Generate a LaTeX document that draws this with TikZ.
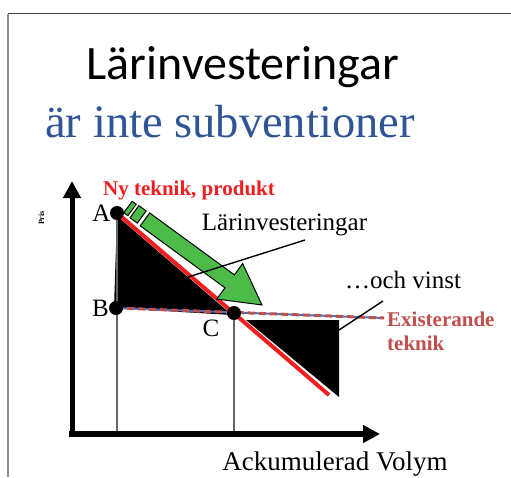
\documentclass[tikz,border=0pt]{standalone}
\usepackage{fontspec}
\setmainfont{Liberation Serif}
\newfontfamily\titlefont{Carlito}
\usetikzlibrary{arrows.meta}
\definecolor{ttblue}{RGB}{47,85,151}
\definecolor{nyred}{RGB}{240,30,30}
\definecolor{exred}{RGB}{192,80,77}
\definecolor{exblue}{RGB}{68,114,196}
\definecolor{argreen}{RGB}{77,187,72}
\tikzset{
  lbl/.style={inner sep=0pt, anchor=base},
  pt/.style={circle, fill=black, minimum size=14pt, inner sep=0pt},
  axis/.style={line width=5pt, -{Triangle[length=17pt,width=17pt]}},
  guide/.style={draw=black!60, line width=1.2pt},
  leader/.style={draw=black, line width=1.4pt},
  grn/.style={fill=argreen, draw=black, line width=1pt, line join=miter},
}
\begin{document}
\begin{tikzpicture}[x=1pt,y=-1pt]
\useasboundingbox (0,0) rectangle (511,477);
% frame
\draw[draw=black!75, line width=1.5pt] (8,13.5) -- (511,13.5);
\draw[draw=black!45, line width=1.5pt] (8,13.5) -- (8,477);
% titles
\node[lbl] (title) at (243,79) {\titlefont\fontsize{48}{50}\selectfont Lärinvesteringar};
\node[lbl, text=ttblue] (subtitle) at (230,137) {\fontsize{46.5}{50}\selectfont är inte subventioner};
% coordinates
\coordinate (Ac) at (117,213);
\coordinate (Bc) at (116,308);
\coordinate (Cc) at (234,313);
\coordinate (Rend) at (329,395);
\coordinate (Dend) at (384,318);
\coordinate (A0) at (117,434);
\coordinate (C0) at (234,434);
% black triangles
\fill[black] (117,216) -- (114,308) -- (232,315) -- cycle;
\fill[black] (246,320) -- (339,320) -- (339,397) -- cycle;
% guides
\draw[guide] (Ac) -- (A0);
\draw[guide] (Cc) -- (C0);
% existing technology line
\draw[exblue, line width=2pt] (Bc) -- (Dend);
\draw[exred, line width=3pt, dash pattern=on 7pt off 4pt] (Bc) -- (Dend);
% new technology line
\draw[nyred, line width=4pt] (Ac) -- (Rend);
% points
\node[pt] (A) at (Ac) {};
\node[pt] (B) at (Bc) {};
\node[pt] (C) at (Cc) {};
% green striped arrow
\coordinate (S) at (128,207);
\begin{scope}[shift={(S)}, x={(0.807pt,-0.590pt)}, y={(0.590pt,0.807pt)}]
  \filldraw[grn] (0,-7) -- (5,-7) -- (5,7) -- (0,7) -- cycle;
  \filldraw[grn] (8,-7.5) -- (17,-7.5) -- (17,7.5) -- (8,7.5) -- cycle;
  \filldraw[grn] (21,-8) -- (126,-8) -- (126,-22) -- (166,0) -- (126,22) -- (126,8) -- (21,8) -- cycle;
\end{scope}
% labels and leaders
\node[lbl, text=nyred, font=\bfseries\fontsize{21}{24}\selectfont] (ny) at (189,195) {Ny teknik, produkt};
\node[lbl, font=\fontsize{25}{28}\selectfont] (la) at (101.5,221.5) {A};
\node[lbl, font=\fontsize{25}{28}\selectfont] (lb) at (100.5,316) {B};
\node[lbl, font=\fontsize{25}{28}\selectfont] (lc) at (211,336) {C};
\node[lbl, font=\fontsize{25}{28}\selectfont] (lar) at (284.5,230) {Lärinvesteringar};
\coordinate (larend) at (185,278);
\draw[leader] (305,240) coordinate (larstart) -- (larend);
\node[lbl, font=\fontsize{25}{28}\selectfont] (vinst) at (403,288) {…och vinst};
\draw[leader] (383,301) coordinate (vstart) -- (339,330) coordinate (vend);
\node[inner sep=0pt, anchor=base west, text=exred, font=\bfseries\fontsize{21}{26}\selectfont] (ex) at (387,326) {Existerande};
\node[inner sep=0pt, anchor=base west, text=exred, font=\bfseries\fontsize{21}{26}\selectfont] (tek) at (387,350) {teknik};
\node[inner sep=0pt, rotate=90, font=\bfseries\fontsize{8}{9}\selectfont] (pris) at (41.5,218) {Pris};
% axes
\coordinate (O) at (72,437);
\coordinate (Ytip) at (72,181);
\coordinate (Xs) at (69,434);
\coordinate (Xtip) at (380,434);
\draw[axis] (O) -- (Ytip);
\draw[axis, line width=6pt] (Xs) -- (Xtip);
\node[lbl, font=\fontsize{27}{30}\selectfont] (vol) at (335,470.5) {Ackumulerad Volym};
\end{tikzpicture}
\end{document}
